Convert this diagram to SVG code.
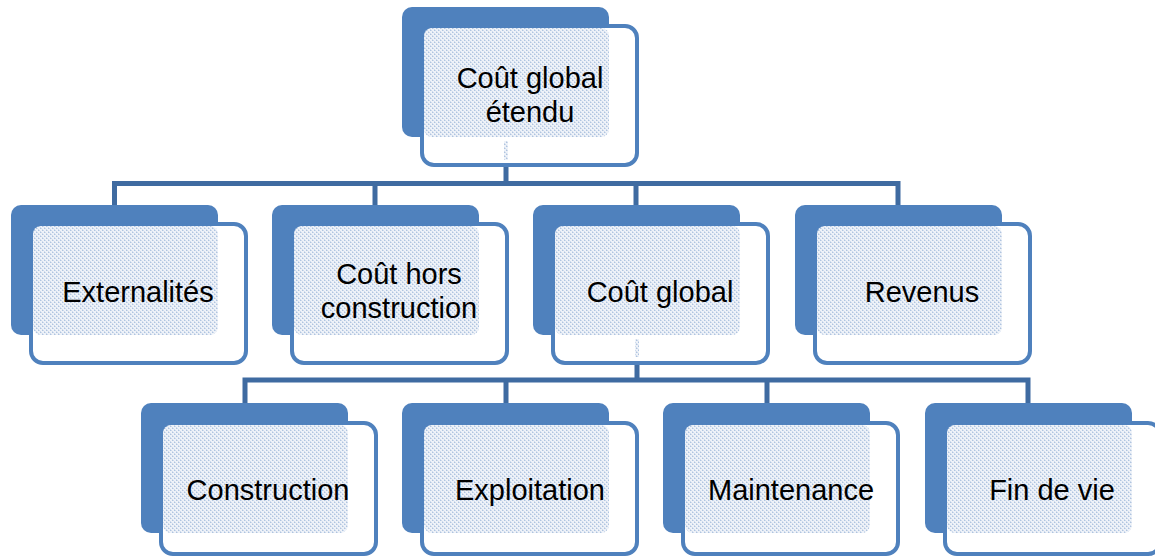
<svg xmlns="http://www.w3.org/2000/svg" width="1155" height="557" viewBox="0 0 1155 557">
<defs>
<pattern id="dots" width="4" height="4" patternUnits="userSpaceOnUse">
<rect width="4" height="4" fill="#eef2f8"/>
<rect x="0" y="0" width="1" height="1" fill="#afc4e0"/>
<rect x="2" y="2" width="1" height="1" fill="#afc4e0"/>
<rect x="1" y="0" width="1" height="1" fill="#cfdbec"/>
<rect x="3" y="2" width="1" height="1" fill="#cfdbec"/>
<rect x="0" y="3" width="1" height="1" fill="#cfdbec"/>
<rect x="2" y="1" width="1" height="1" fill="#cfdbec"/>
</pattern>
<style>
.back{fill:#4f81bd}
.front{fill:#ffffff;stroke:#4f81bd;stroke-width:4}
.pat{fill:url(#dots)}
.conn{stroke:#3f6ba1;stroke-width:5;fill:none}
.lbl{font-family:"Liberation Sans",Arial,sans-serif;font-size:29px;fill:#000;text-anchor:middle}
</style>
</defs>

<g id="connectors">
<path class="conn" d="M506,160 V183.5 M114.5,205 V183.5 H898 V205 M375,183.5 V205 M636,183.5 V205"/>
<path class="conn" d="M637,357 V380 M245,403 V380 H1028 V403 M506,380 V403 M767,380 V403"/>
</g>

<g id="n-top">
<rect class="back" x="402" y="7" width="207" height="130" rx="10"/>
<rect class="front" x="422" y="26" width="215" height="139" rx="12"/>
<rect class="pat" x="424" y="28" width="185" height="109" rx="8"/>
<rect class="pat" x="504" y="141" width="4" height="19"/>
<text class="lbl" x="530" y="88">Coût global</text>
<text class="lbl" x="530" y="122">étendu</text>
</g>

<g id="n-ext">
<rect class="back" x="11" y="205" width="207" height="130" rx="10"/>
<rect class="front" x="31" y="224" width="215" height="139" rx="12"/>
<rect class="pat" x="33" y="226" width="185" height="109" rx="8"/>
<text class="lbl" x="138" y="302">Externalités</text>
</g>

<g id="n-hors">
<rect class="back" x="272" y="205" width="207" height="130" rx="10"/>
<rect class="front" x="292" y="224" width="215" height="139" rx="12"/>
<rect class="pat" x="294" y="226" width="185" height="109" rx="8"/>
<text class="lbl" x="399" y="284">Coût hors</text>
<text class="lbl" x="399" y="318">construction</text>
</g>

<g id="n-global">
<rect class="back" x="533" y="205" width="207" height="130" rx="10"/>
<rect class="front" x="553" y="224" width="215" height="139" rx="12"/>
<rect class="pat" x="555" y="226" width="185" height="109" rx="8"/>
<rect class="pat" x="635" y="339" width="4" height="18"/>
<text class="lbl" x="660" y="302">Coût global</text>
</g>

<g id="n-rev">
<rect class="back" x="795" y="205" width="207" height="130" rx="10"/>
<rect class="front" x="815" y="224" width="215" height="139" rx="12"/>
<rect class="pat" x="817" y="226" width="185" height="109" rx="8"/>
<text class="lbl" x="922" y="302">Revenus</text>
</g>

<g id="n-constr">
<rect class="back" x="141" y="403" width="207" height="130" rx="10"/>
<rect class="front" x="161" y="423" width="215" height="131" rx="12"/>
<rect class="pat" x="163" y="425" width="185" height="108" rx="8"/>
<text class="lbl" x="268" y="500">Construction</text>
</g>

<g id="n-expl">
<rect class="back" x="402" y="403" width="207" height="130" rx="10"/>
<rect class="front" x="422" y="423" width="215" height="131" rx="12"/>
<rect class="pat" x="424" y="425" width="185" height="108" rx="8"/>
<text class="lbl" x="530" y="500">Exploitation</text>
</g>

<g id="n-maint">
<rect class="back" x="663" y="403" width="207" height="130" rx="10"/>
<rect class="front" x="683" y="423" width="215" height="131" rx="12"/>
<rect class="pat" x="685" y="425" width="185" height="108" rx="8"/>
<text class="lbl" x="791" y="500">Maintenance</text>
</g>

<g id="n-fin">
<rect class="back" x="925" y="403" width="207" height="130" rx="10"/>
<rect class="front" x="945" y="423" width="215" height="131" rx="12"/>
<rect class="pat" x="947" y="425" width="185" height="108" rx="8"/>
<text class="lbl" x="1052" y="500">Fin de vie</text>
</g>
</svg>
